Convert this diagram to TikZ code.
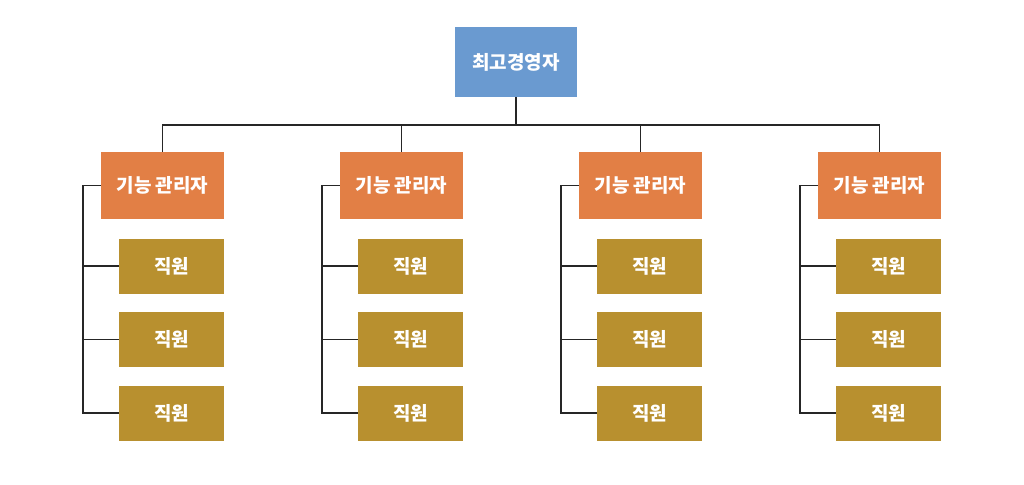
\documentclass[tikz,border=0pt]{standalone}
\usepackage{fontspec}
\setmainfont{Noto Sans CJK KR}
\usepackage{tikz}
\usetikzlibrary{positioning}
\definecolor{ceo}{HTML}{6A9AD0}
\definecolor{manager}{HTML}{E27F45}
\definecolor{staff}{HTML}{B8902F}
\definecolor{link}{HTML}{262626}

\begin{document}
\begin{tikzpicture}[x=1pt,y=1pt,font=\fontsize{19}{22}\selectfont\bfseries]
    \tikzstyle{box}=[text=white, inner sep=0pt, on grid]
    \tikzstyle{top}=[box, fill=ceo, minimum width=122pt, minimum height=70pt]
    \tikzstyle{mgr}=[box, fill=manager, minimum width=123pt, minimum height=67pt, node distance=239pt]
    \tikzstyle{emp}=[box, fill=staff, minimum width=105pt, minimum height=55pt, node distance=73.5pt]
    \tikzstyle{wire}=[link, line width=1.6pt]

    \useasboundingbox (0,0) rectangle (1024,-484);

    \node[top] (boss) at (516,-62) {최고경영자};

    \node[mgr] (mgrA) at (162.5,-185.5) {기능 관리자};
    \node[mgr,right=of mgrA] (mgrB) {기능 관리자};
    \node[mgr,right=of mgrB] (mgrC) {기능 관리자};
    \node[mgr,right=of mgrC] (mgrD) {기능 관리자};

    \node[emp,below=80.5pt of mgrA,xshift=9pt] (empA1) {직원};
    \node[emp,below=of empA1] (empA2) {직원};
    \node[emp,below=of empA2] (empA3) {직원};

    \node[emp,below=80.5pt of mgrB,xshift=9pt] (empB1) {직원};
    \node[emp,below=of empB1] (empB2) {직원};
    \node[emp,below=of empB2] (empB3) {직원};

    \node[emp,below=80.5pt of mgrC,xshift=9pt] (empC1) {직원};
    \node[emp,below=of empC1] (empC2) {직원};
    \node[emp,below=of empC2] (empC3) {직원};

    \node[emp,below=80.5pt of mgrD,xshift=9pt] (empD1) {직원};
    \node[emp,below=of empD1] (empD2) {직원};
    \node[emp,below=of empD2] (empD3) {직원};

    % top level bus
    \draw[wire] (boss.south) -- ++(0,-27.5) coordinate (bus);
    \draw[wire] (mgrA.north) |- (bus) -| (mgrD.north);
    \draw[wire] (mgrB.north) -- (mgrB.north |- bus);
    \draw[wire] (mgrC.north) -- (mgrC.north |- bus);

    % staff lines
    \draw[wire] (mgrA.west) -- ++(-18,0) coordinate (spineA) |- (empA3.west);
    \draw[wire] (spineA |- empA1.west) -- (empA1.west);
    \draw[wire] (spineA |- empA2.west) -- (empA2.west);

    \draw[wire] (mgrB.west) -- ++(-18,0) coordinate (spineB) |- (empB3.west);
    \draw[wire] (spineB |- empB1.west) -- (empB1.west);
    \draw[wire] (spineB |- empB2.west) -- (empB2.west);

    \draw[wire] (mgrC.west) -- ++(-18,0) coordinate (spineC) |- (empC3.west);
    \draw[wire] (spineC |- empC1.west) -- (empC1.west);
    \draw[wire] (spineC |- empC2.west) -- (empC2.west);

    \draw[wire] (mgrD.west) -- ++(-18,0) coordinate (spineD) |- (empD3.west);
    \draw[wire] (spineD |- empD1.west) -- (empD1.west);
    \draw[wire] (spineD |- empD2.west) -- (empD2.west);
\end{tikzpicture}
\end{document}
